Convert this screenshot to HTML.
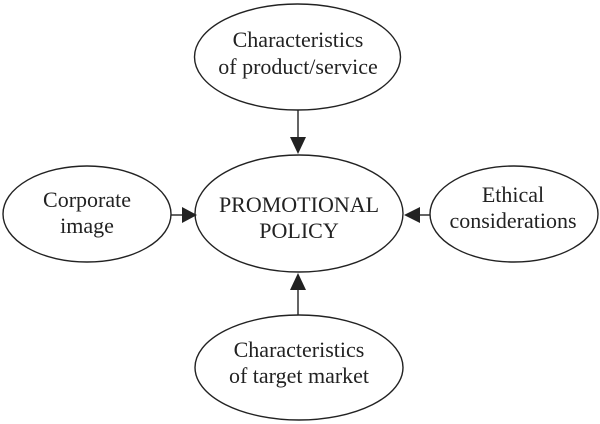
<!DOCTYPE html>
<html><head><style>body{margin:0;background:#fff}svg{display:block}</style></head>
<body>
<svg width="600" height="424" viewBox="0 0 600 424" xmlns="http://www.w3.org/2000/svg" font-family="'Liberation Serif', serif" font-size="22" fill="#222" text-anchor="middle">
<g fill="none" stroke="#222" stroke-width="1.4">
<ellipse cx="297.5" cy="57" rx="103" ry="53"/>
<ellipse cx="299" cy="213.5" rx="104" ry="58.5"/>
<ellipse cx="299" cy="367.5" rx="104" ry="52.5"/>
<ellipse cx="87" cy="214" rx="84" ry="48"/>
<ellipse cx="514" cy="214" rx="84" ry="48"/>
<line x1="298" y1="110" x2="298" y2="138"/>
<line x1="298" y1="290" x2="298" y2="315"/>
<line x1="171" y1="215" x2="183" y2="215"/>
<line x1="419" y1="215" x2="430" y2="215"/>
</g>
<polygon points="290,137 306,137 298,154" fill="#222"/>
<polygon points="290,290 306,290 298,273" fill="#222"/>
<polygon points="182,207 182,223 197,215" fill="#222"/>
<polygon points="420,207 420,223 404,215" fill="#222"/>
<text x="298" y="47">Characteristics</text>
<text x="298" y="74">of product/service</text>
<text x="299" y="212">PROMOTIONAL</text>
<text x="299" y="238">POLICY</text>
<text x="299" y="357">Characteristics</text>
<text x="299" y="383">of target market</text>
<text x="87" y="207">Corporate</text>
<text x="87" y="233">image</text>
<text x="513" y="202">Ethical</text>
<text x="513" y="228">considerations</text>
</svg>
</body></html>
